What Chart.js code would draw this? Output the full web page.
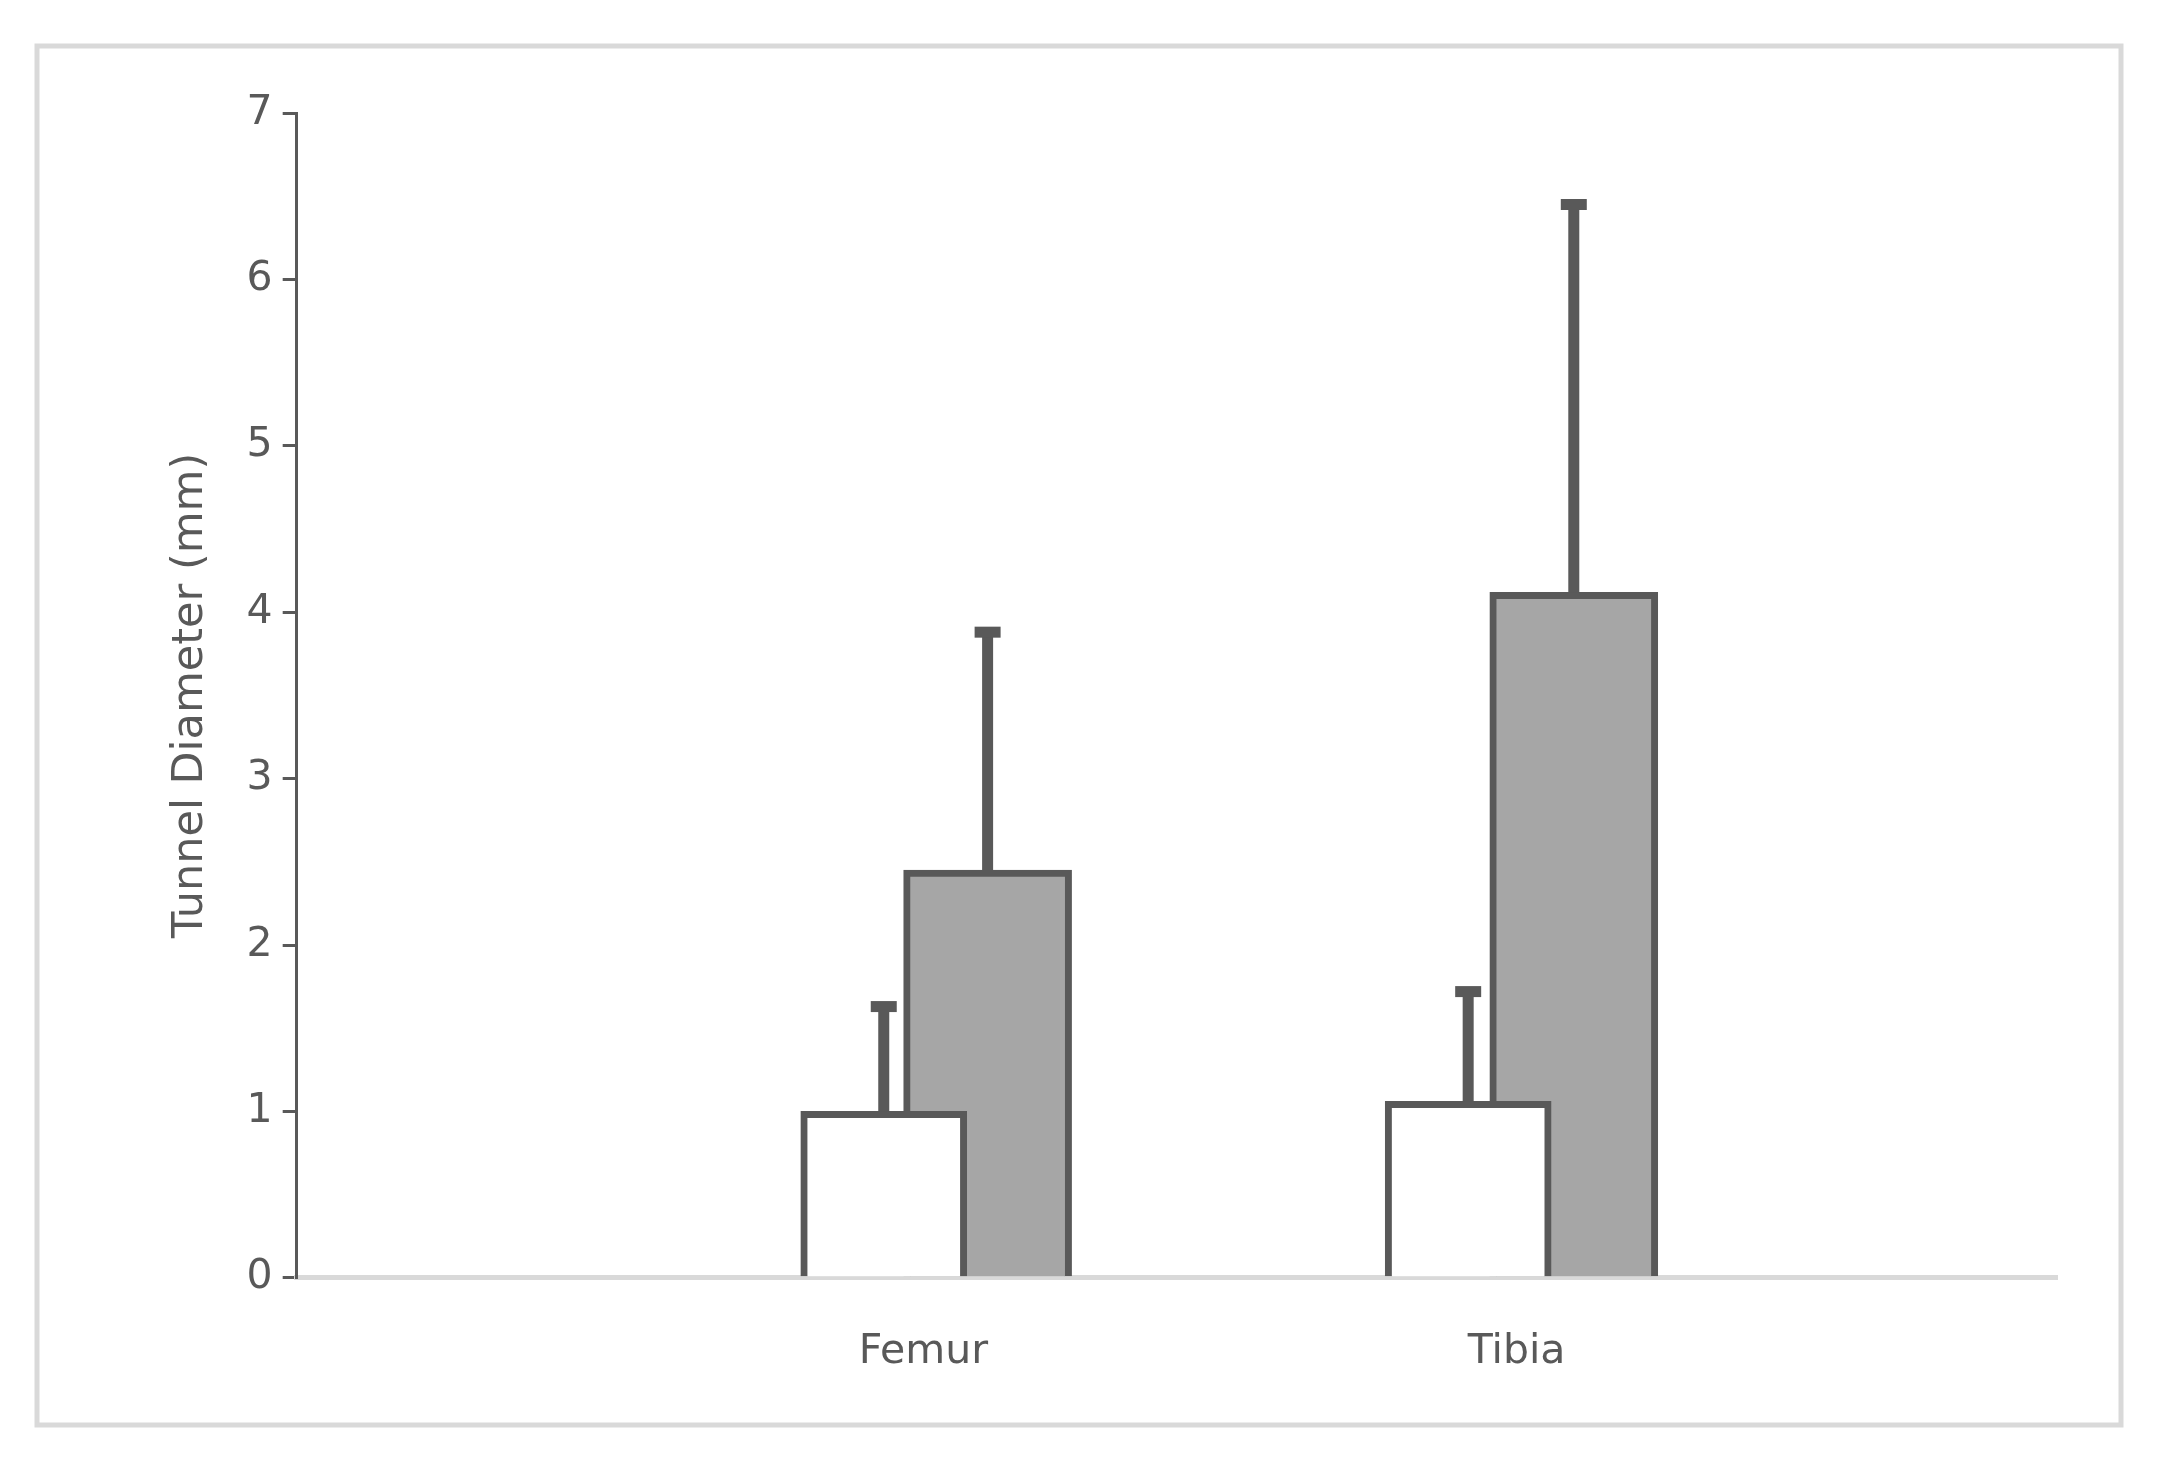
<!DOCTYPE html>
<html>
<head>
<meta charset="utf-8">
<script src="https://cdn.jsdelivr.net/npm/chart.js@4/dist/chart.umd.min.js"></script>
<style>
  body { margin: 0; background: #fff; }
  #wrap { width: 2162px; height: 1480px; }
</style>
</head>
<body>
<div id="wrap"><canvas id="bar-chart"></canvas></div>
<script>
// data
const categories = ['Femur', 'Tibia'];
const categoryPos = [2.12, 8.86];   // label positions on a 0..10 x axis
const whitePos = [1.67, 8.31];
const greyPos = [2.85, 9.51];
const whiteValues = [1.0, 1.06];
const whiteErrors = [0.63, 0.66];
const greyValues = [2.45, 4.12];
const greyErrors = [1.43, 2.33];
const yTicks = [0, 1, 2, 3, 4, 5, 6, 7];

const dark = '#595959';

// frame around the whole figure
const framePlugin = {
  id: 'frame',
  beforeDraw(chart) {
    const c = chart.ctx;
    c.save();
    c.fillStyle = '#fff';
    c.fillRect(0, 0, chart.width, chart.height);
    c.strokeStyle = '#d9d9d9';
    c.lineWidth = 5;
    c.strokeRect(37, 46, 2084, 1379);
    c.restore();
  }
};

// upper error bars only
const errorPlugin = {
  id: 'errors',
  afterDatasetsDraw(chart) {
    const c = chart.ctx;
    const y = chart.scales.y;
    const errs = [whiteErrors, greyErrors];
    c.save();
    c.strokeStyle = dark;
    c.lineWidth = 11;
    chart.data.datasets.forEach((ds, i) => {
      chart.getDatasetMeta(i).data.forEach((bar, j) => {
        const top = y.getPixelForValue(ds.data[j].y + errs[i][j]);
        c.beginPath();
        c.moveTo(bar.x, bar.y);
        c.lineTo(bar.x, top);
        c.stroke();
        c.beginPath();
        c.moveTo(bar.x - 13, top);
        c.lineTo(bar.x + 13, top);
        c.stroke();
      });
    });
    c.restore();
  }
};

new Chart(document.getElementById('bar-chart'), {
  type: 'bar',
  data: {
    datasets: [
      { data: whitePos.map((x, i) => ({ x: x, y: whiteValues[i] })),
        backgroundColor: '#ffffff', borderColor: dark, borderWidth: 7, barThickness: 166 },
      { data: greyPos.map((x, i) => ({ x: x, y: greyValues[i] })),
        backgroundColor: '#a6a6a6', borderColor: dark, borderWidth: 7, barThickness: 168 }
    ]
  },
  options: {
    responsive: true,
    maintainAspectRatio: false,
    animation: false,
    grouped: false,
    layout: { padding: { left: 145, top: 113, right: 105, bottom: 53 } },
    plugins: { legend: { display: false }, tooltip: { enabled: false } },
    scales: {
      x: {
        type: 'linear', min: 0, max: 10,
        afterBuildTicks(axis) { axis.ticks = categoryPos.map(v => ({ value: v })); },
        grid: { display: false, drawTicks: false },
        border: { color: '#d9d9d9', width: 5 },
        ticks: { color: dark, font: { family: 'DejaVu Sans', size: 41 }, padding: 50,
                 callback: (v) => categories[categoryPos.indexOf(v)] }
      },
      y: {
        min: 0, max: 7,
        afterBuildTicks(axis) { axis.ticks = yTicks.map(v => ({ value: v })); },
        grid: { drawOnChartArea: false, color: dark, lineWidth: 3, tickLength: 14 },
        border: { color: dark, width: 3 },
        ticks: { color: dark, font: { family: 'DejaVu Sans', size: 41 }, padding: 10 },
        title: { display: true, text: 'Tunnel Diameter (mm)', color: dark,
                 font: { family: 'DejaVu Sans', size: 43 }, padding: 20 }
      }
    }
  },
  plugins: [framePlugin, errorPlugin]
});
</script>
</body>
</html>
